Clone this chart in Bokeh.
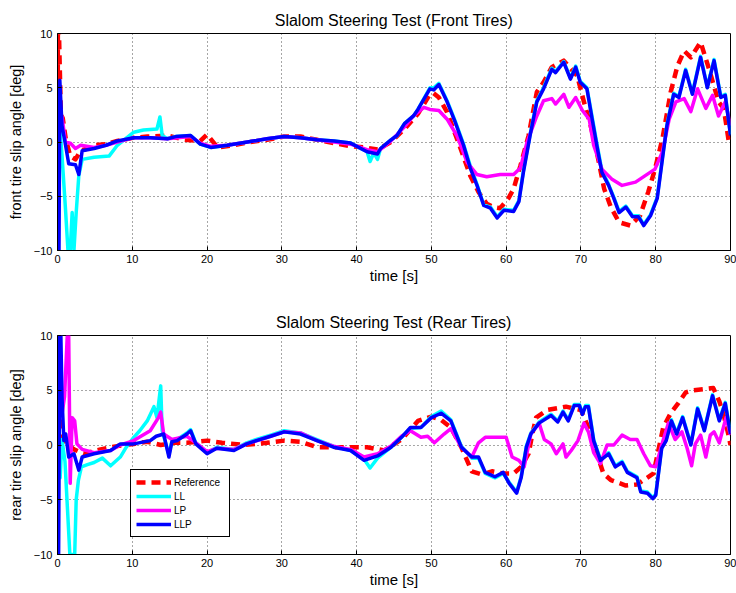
from bokeh.plotting import figure
from bokeh.models import Legend, LegendItem, FixedTicker, Range1d
from bokeh.layouts import column
from bokeh.embed import file_html
from bokeh.resources import INLINE

# ---------------- data ----------------
XTICKS = [0, 10, 20, 30, 40, 50, 60, 70, 80, 90]
YTICKS = [-10, -5, 0, 5, 10]
SERIES_NAMES = ["Reference", "LL", "LP", "LLP"]
TITLES = ["Slalom Steering Test (Front Tires)", "Slalom Steering Test (Rear Tires)"]
YLABELS = ["front tire slip angle [deg]", "rear tire slip angle [deg]"]
XLABEL = "time [s]"

FRONT_REF = [(0, -10), (0.05, 10), (0.2, 10), (0.45, 2.5), (0.7, 2.2), (1.1, 0.3), (1.7, -1.3),
             (2.4, -1.6), (3.1, -0.8), (4.0, -0.6), (4.9, -0.3), (6.5, -0.2), (8.0, 0.1), (10.2, 0.4),
             (12.0, 0.5), (14.7, 0.6), (17.0, 0.2), (19.1, 0.1), (20.0, 0.7), (21.4, -0.5), (23.6, -0.3),
             (25.8, 0.0), (28.0, 0.2), (30.3, 0.5), (32.5, 0.5), (34.7, 0.2), (37.0, -0.1), (39.2, -0.4),
             (41.0, -0.5), (42.8, -0.7), (44.6, 0.0), (46.4, 1.2), (48.2, 2.6), (49.8, 4.4), (50.3, 4.5),
             (51.0, 4.1), (52.1, 2.75), (53.9, -0.6), (55.2, -3.1), (56.3, -4.6), (57.4, -5.7), (58.3, -6.0),
             (59.2, -6.1), (60.3, -5.2), (61.0, -4.3), (61.9, -2.2), (63.0, 0.6), (64.1, 4.6), (65.0, 5.5),
             (66.1, 6.9), (67.7, 7.5), (69.5, 6.1), (70.4, 3.7), (71.3, 1.5), (72.2, -1.2), (73.1, -4.3),
             (74.0, -6.0), (75.1, -7.4), (76.6, -7.7), (77.9, -6.8), (79.0, -4.6), (79.9, -2.5), (80.9, 0.3),
             (82.0, 4.6), (82.9, 7.0), (83.8, 8.4), (84.7, 7.8), (86.0, 9.2), (87.1, 6.8), (88.4, 3.7),
             (89.1, 3.1), (89.8, -0.1), (90, -0.3)]

FRONT_LL = [(0, -10), (0.1, -10), (0.18, 2.7), (0.6, -1.2), (1.07, -6.2), (1.4, -10), (1.7, -10),
            (1.96, -6.5), (2.2, -10), (2.5, -6.5), (2.85, -3.1), (3.3, -1.6), (4.9, -1.4), (6.9, -1.3),
            (8.0, -0.3), (10.2, 0.9), (11.5, 1.1), (13.3, 1.2), (13.7, 2.3), (14.0, 0.6), (14.7, 0.3),
            (15.8, 0.5), (17.8, 0.6), (19.1, -0.2), (20.5, -0.5), (22.7, -0.3), (25.4, 0.0), (28.0, 0.3),
            (30.3, 0.5), (32.5, 0.4), (34.7, 0.2), (37.0, 0.1), (39.2, -0.1), (41.4, -0.9), (41.8, -1.8),
            (42.3, -1.0), (42.8, -1.6), (43.2, -0.6), (44.6, 0.2), (45.4, 0.6), (46.4, 1.7), (47.6, 2.4),
            (48.2, 3.0), (49.8, 5.0), (50.3, 5.0), (51.0, 5.4), (52.1, 3.8), (53.2, 1.9), (54.3, -0.2),
            (55.2, -2.2), (56.1, -3.9), (57.0, -5.8), (57.9, -6.0), (58.8, -6.9), (59.7, -6.2),
            (61.0, -6.3), (61.7, -5.4), (62.3, -2.7), (63.2, 0.7), (64.1, 3.8), (65.0, 5.0), (66.1, 6.8),
            (66.6, 6.5), (67.7, 7.4), (68.6, 5.9), (69.3, 7.0), (69.9, 5.6), (70.8, 5.0), (71.5, 2.3),
            (72.2, -0.4), (72.8, -2.6), (73.7, -3.9), (74.4, -5.1), (75.1, -6.4), (76.0, -5.9),
            (76.9, -6.8), (77.7, -6.8), (78.4, -7.6), (79.3, -6.7), (80.2, -5.1), (80.9, -1.4),
            (81.5, 1.6), (82.4, 4.5), (83.1, 4.2), (84.0, 6.7), (84.9, 4.5), (86.0, 7.9), (86.9, 5.1),
            (87.8, 7.6), (88.7, 4.2), (89.3, 4.4), (90, 0.7)]

FRONT_LP = [(0, -1.0), (0.1, 2.8), (0.2, 2.6), (0.6, 2.3), (1.07, 0.0), (1.7, -0.1), (2.4, -0.6),
            (3.1, -0.3), (4.9, -0.5), (6.5, -0.3), (8.0, 0.0), (10.2, 0.4), (12.4, 0.4), (14.7, 0.3),
            (17.8, 0.5), (19.1, -0.1), (20.5, -0.4), (22.7, -0.3), (25.4, 0.0), (28.0, 0.3), (30.3, 0.5),
            (32.5, 0.4), (34.7, 0.2), (37.0, 0.0), (39.2, -0.2), (41.4, -0.7), (42.8, -0.9), (44.6, 0.1),
            (46.4, 1.4), (47.6, 2.4), (49.0, 3.2), (49.8, 3.0), (51.0, 2.9), (52.1, 2.1), (53.4, 0.6),
            (54.8, -1.9), (56.1, -3.0), (57.4, -3.2), (59.2, -3.0), (61.0, -3.0), (61.9, -2.4),
            (62.8, 0.0), (64.1, 2.4), (65.0, 3.8), (66.1, 4.0), (66.6, 3.5), (67.7, 4.4), (68.4, 3.2),
            (69.3, 4.1), (70.2, 2.9), (71.1, 2.1), (71.7, -0.3), (72.8, -2.5), (74.1, -3.4), (75.5, -4.0),
            (77.3, -3.7), (78.6, -3.1), (79.9, -2.5), (80.9, -0.9), (81.8, 2.1), (82.7, 3.7), (83.8, 4.0),
            (84.7, 2.8), (85.6, 4.9), (86.7, 3.1), (87.6, 4.3), (88.4, 2.4), (89.3, 3.7), (90, 1.5)]

FRONT_LLP = [(0, -10), (0.2, -10), (0.31, 5.7), (0.6, 1.5), (1.0, 0.0), (1.5, -2.0), (2.4, -2.1),
             (2.85, -3.0), (3.3, -0.8), (4.9, -0.6), (6.5, -0.3), (8.0, 0.1), (10.2, 0.4), (12.4, 0.4),
             (14.7, 0.3), (15.8, 0.5), (17.8, 0.6), (19.1, -0.2), (20.5, -0.5), (22.7, -0.3), (25.4, 0.0),
             (28.0, 0.3), (30.3, 0.5), (32.5, 0.4), (34.7, 0.2), (37.0, 0.1), (39.2, -0.1), (41.4, -0.9),
             (42.8, -1.1), (43.2, -0.6), (44.6, 0.2), (45.4, 0.6), (46.4, 1.7), (47.6, 2.4), (48.2, 3.0),
             (49.8, 4.9), (50.3, 4.8), (51.0, 5.3), (52.1, 3.7), (53.2, 1.8), (54.3, -0.3), (55.2, -2.4),
             (56.1, -4.0), (57.0, -5.85), (57.9, -6.1), (58.8, -7.0), (59.7, -6.3), (61.0, -6.4),
             (61.7, -5.5), (62.3, -2.8), (63.2, 0.6), (64.1, 3.7), (65.0, 4.9), (66.1, 6.7), (66.6, 6.4),
             (67.7, 7.35), (68.6, 5.8), (69.3, 6.9), (69.9, 5.5), (70.8, 4.9), (71.5, 2.1), (72.2, -0.6),
             (72.8, -2.8), (73.7, -4.0), (74.4, -5.2), (75.1, -6.5), (76.0, -6.0), (76.9, -6.9),
             (77.7, -6.9), (78.4, -7.7), (79.3, -6.8), (80.2, -5.2), (80.9, -1.55), (81.5, 1.5),
             (82.4, 4.4), (83.1, 4.1), (84.0, 6.6), (84.9, 4.4), (86.0, 7.8), (86.9, 5.0), (87.8, 7.5),
             (88.7, 4.1), (89.3, 4.3), (90, 0.6)]

REAR_REF = [(0, 0.0), (0.05, 10), (0.25, 10), (0.5, 1.0), (1.0, 0.3), (2.2, -0.4), (3.5, -0.8),
            (5.75, -0.4), (8.0, -0.1), (10.2, 0.1), (12.0, 0.3), (13.8, 0.0), (15.5, 0.2), (17.3, 0.2),
            (20.0, 0.4), (22.0, 0.2), (25.0, 0.0), (28.0, 0.2), (30.3, 0.4), (32.5, 0.3), (34.7, -0.2),
            (37.0, -0.2), (39.2, -0.2), (41.4, -0.2), (43.7, -0.5), (46.0, 0.5), (48.2, 2.2), (50.0, 2.6),
            (51.3, 2.3), (52.6, 1.6), (54.0, -0.2), (55.4, -2.4), (56.8, -2.7), (58.1, -2.4), (59.6, -2.6),
            (61.0, -2.6), (62.0, -2.0), (63.0, -0.8), (63.5, 1.0), (64.0, 2.5), (65.5, 3.2), (68.0, 3.5),
            (70.0, 3.2), (71.0, 1.6), (72.0, -0.5), (73.0, -2.6), (74.0, -3.2), (76.0, -3.7), (77.5, -3.6),
            (79.7, -2.6), (81.0, 1.6), (82.0, 2.9), (83.0, 3.8), (84.0, 4.8), (85.0, 5.0), (87.7, 5.2),
            (88.5, 4.0), (89.0, 3.0), (89.7, 1.0), (90, 0.0)]

REAR_LL = [(0, -10), (0.15, 4.0), (0.35, -3.0), (0.6, 0.5), (1.0, -1.5), (1.5, -8.0), (1.65, -10),
           (2.3, -10), (2.5, -5.0), (2.8, -3.2), (3.2, -2.0), (4.0, -1.8), (4.9, -1.6), (6.0, -1.2),
           (7.1, -1.9), (8.4, -1.1), (9.2, -0.2), (10.2, 0.7), (11.0, 1.3), (12.0, 2.2), (12.9, 3.5),
           (13.3, 2.5), (13.8, 5.4), (14.0, 1.3), (14.9, -0.9), (15.3, 0.4), (16.0, 0.5), (17.3, 1.1),
           (17.8, 1.4), (18.5, 0.2), (20.0, -0.7), (21.3, -0.2), (23.6, -0.4), (25.3, 0.2), (26.6, 0.5),
           (28.5, 0.9), (30.3, 1.3), (32.5, 1.1), (34.7, 0.5), (36.9, -0.1), (39.2, -0.5), (41.0, -1.3),
           (41.8, -2.1), (42.8, -1.2), (44.6, -0.2), (46.0, 0.7), (47.2, 1.5), (48.6, 1.6), (50.0, 2.6),
           (51.3, 3.1), (52.6, 2.3), (54.0, -0.1), (55.4, -1.2), (56.3, -1.2), (57.2, -2.6), (58.5, -3.0),
           (59.6, -2.6), (60.4, -3.4), (61.4, -4.3), (62.0, -2.9), (62.7, -0.1), (63.3, 1.1), (64.4, 2.1),
           (66.0, 2.8), (66.9, 2.2), (67.6, 3.1), (68.3, 2.3), (69.1, 3.7), (69.8, 3.7), (70.2, 2.9),
           (70.6, 3.6), (71.0, 3.6), (71.7, 0.5), (72.6, -1.3), (73.7, -0.7), (74.6, -1.9), (75.5, -1.5),
           (76.2, -2.4), (77.5, -2.9), (78.0, -4.2), (78.9, -4.3), (79.6, -4.8), (80.0, -4.5), (80.8, -0.2),
           (81.4, 0.5), (82.1, 2.3), (82.8, 1.1), (83.6, 2.6), (84.7, 0.1), (85.6, 3.4), (86.5, 1.4),
           (87.6, 4.6), (88.5, 2.3), (89.3, 3.9), (90, 1.1)]

REAR_LP = [(0, -1.1), (0.1, -2.0), (0.3, 7.4), (0.6, 2.8), (0.94, 4.4), (1.3, 9.9), (1.5, 10),
           (1.7, -3.5), (1.96, 2.5), (2.3, 2.2), (2.6, 0.1), (3.3, -0.4), (4.9, -0.7), (7.1, -0.5),
           (8.4, 0.0), (10.2, 0.4), (12.4, 1.3), (13.5, 2.5), (13.8, 3.0), (14.2, 1.0), (15.3, 0.5),
           (17.3, 0.8), (18.5, 0.2), (20.0, -0.6), (21.3, -0.3), (23.6, -0.4), (25.3, 0.1), (28.5, 0.8),
           (30.3, 1.2), (32.5, 1.1), (34.7, 0.4), (36.9, -0.1), (39.2, -0.4), (41.0, -1.1), (42.8, -0.8),
           (44.6, -0.1), (46.0, 0.8), (47.2, 1.3), (48.6, 0.7), (49.5, 0.8), (50.4, 0.2), (51.7, 1.0),
           (52.6, 1.5), (54.0, -0.2), (55.4, -1.1), (56.3, 0.2), (57.2, 0.7), (58.5, 0.7), (60.0, 0.7),
           (60.8, -1.1), (61.7, -1.4), (62.4, -2.0), (63.3, 1.0), (64.4, 2.0), (65.1, 0.5), (66.0, 0.1),
           (66.7, -0.8), (67.6, 0.1), (68.0, -1.1), (68.7, -0.5), (69.6, 0.4), (70.4, 2.0), (71.0, 1.2),
           (71.7, -0.7), (72.6, -1.7), (73.5, 0.0), (74.4, 0.0), (75.5, 0.9), (76.6, 0.5), (77.5, 0.5),
           (78.4, -0.8), (79.3, -1.9), (80.0, -2.0), (80.8, 0.0), (81.7, 2.0), (82.6, 0.5), (83.5, 1.2),
           (84.2, -0.3), (84.8, -1.9), (85.3, 0.1), (86.0, 0.9), (86.7, -1.1), (87.3, 0.9), (87.8, 1.2),
           (88.5, 0.2), (89.4, 2.5), (90, 0.9)]

REAR_LLP = [(0, -10), (0.15, -10), (0.3, 10), (0.45, 10), (0.6, 4.4), (0.85, 0.4), (1.1, 1.0),
            (1.5, -1.1), (2.2, -0.8), (2.85, -2.3), (3.3, -1.1), (4.9, -0.8), (7.1, -0.5), (8.4, 0.1),
            (10.2, 0.1), (12.4, 0.4), (13.2, 0.8), (14.2, 1.0), (14.9, -1.1), (15.3, 0.3), (16.0, 0.4),
            (17.3, 1.0), (17.8, 1.3), (18.5, 0.1), (20.0, -0.8), (21.3, -0.3), (23.6, -0.5), (25.3, 0.1),
            (26.6, 0.4), (28.5, 0.8), (30.3, 1.2), (32.5, 1.0), (34.7, 0.4), (36.9, -0.2), (39.2, -0.5),
            (41.0, -1.4), (42.8, -1.0), (44.6, -0.2), (46.0, 0.7), (47.2, 1.6), (48.6, 1.6), (50.0, 2.5),
            (51.3, 2.9), (52.6, 2.2), (54.0, -0.2), (55.4, -1.1), (56.3, -1.1), (57.2, -2.5), (58.5, -2.9),
            (59.6, -2.5), (60.4, -3.5), (61.4, -4.4), (62.0, -3.0), (62.7, -0.2), (63.3, 1.0), (64.4, 2.0),
            (66.0, 2.7), (66.9, 2.1), (67.6, 3.0), (68.3, 2.2), (69.1, 3.6), (69.8, 3.6), (70.2, 2.8),
            (70.6, 3.5), (71.0, 3.5), (71.7, 0.4), (72.6, -1.4), (73.7, -0.8), (74.6, -2.0), (75.5, -1.6),
            (76.2, -2.5), (77.5, -3.0), (78.0, -4.3), (78.9, -4.4), (79.6, -4.9), (80.0, -4.6), (80.8, -0.3),
            (81.4, 0.4), (82.1, 2.2), (82.8, 1.0), (83.6, 2.5), (84.7, 0.0), (85.6, 3.3), (86.5, 1.3),
            (87.6, 4.5), (88.5, 2.2), (89.3, 3.8), (90, 1.0)]

# ---------------- styling ----------------
FONT = "Liberation Sans"
COLORS = ["#ff0000", "#00ffff", "#ff00ff", "#0000ff"]
WIDTHS = [4.5, 3.5, 3.5, 3.5]
DASHES = ["9 6", "solid", "solid", "solid"]


def style_axis(ax, ticks, standoff):
    ax.ticker = FixedTicker(ticks=ticks)
    ax.axis_line_color = "black"
    ax.major_tick_line_color = "black"
    ax.major_tick_in = 4
    ax.major_tick_out = 0
    ax.minor_tick_line_color = None
    ax.major_label_text_font = FONT
    ax.major_label_text_color = "black"
    ax.major_label_text_font_size = "11px"
    ax.major_label_standoff = standoff
    ax.axis_label_text_font = FONT
    ax.axis_label_text_font_size = "15px"
    ax.axis_label_text_font_style = "normal"
    ax.axis_label_text_color = "black"


def make_panel(title, ylabel, series, height, top, bottom, with_legend):
    p = figure(width=736, height=height, x_range=Range1d(0, 90), y_range=Range1d(-10, 10),
               output_backend="svg", toolbar_location=None, tools="",
               min_border_left=57, min_border_right=6, min_border_top=top, min_border_bottom=bottom)
    p.title.text = title
    p.title.align = "center"
    p.title.text_font = FONT
    p.title.text_font_size = "16px"
    p.title.text_font_style = "normal"
    p.title.text_color = "black"
    p.title.standoff = 9

    p.outline_line_color = "black"
    p.outline_line_alpha = 1
    p.background_fill_color = "white"
    p.border_fill_color = "white"

    for g in (p.xgrid[0], p.ygrid[0]):
        g.grid_line_color = "black"
        g.grid_line_alpha = 0.7
        g.grid_line_dash = "1 3"
        g.grid_line_width = 1
    p.xgrid.ticker = FixedTicker(ticks=XTICKS)
    p.ygrid.ticker = FixedTicker(ticks=YTICKS)

    xa = p.xaxis[0]
    ya = p.yaxis[0]
    style_axis(xa, XTICKS, 4)
    style_axis(ya, YTICKS, 5)
    xa.axis_label = XLABEL
    ya.axis_label = ylabel
    ya.axis_label_text_font_size = "14.5px"
    xa.axis_label_standoff = 1
    ya.axis_label_standoff = 7

    renderers = []
    for data, c, w, d in zip(series, COLORS, WIDTHS, DASHES):
        t = [pt[0] for pt in data]
        v = [pt[1] for pt in data]
        r = p.line(t, v, line_color=c, line_width=w, line_dash=d, line_join="round")
        renderers.append(r)

    if with_legend:
        items = [LegendItem(label=n, renderers=[r]) for n, r in zip(SERIES_NAMES, renderers)]
        leg = Legend(items=items, location=(73, 17), label_text_font=FONT, label_text_font_size="10px",
                     label_text_color="black", border_line_color="black", border_line_width=1,
                     border_line_alpha=1, background_fill_color="white", background_fill_alpha=1,
                     glyph_width=35, glyph_height=14, label_height=14, label_width=50, label_standoff=3,
                     padding=5, spacing=0, margin=0)
        p.add_layout(leg)
    return p


p1 = make_panel(TITLES[0], YLABELS[0], [FRONT_REF, FRONT_LL, FRONT_LP, FRONT_LLP], 296, 33, 46, False)
p2 = make_panel(TITLES[1], YLABELS[1], [REAR_REF, REAR_LL, REAR_LP, REAR_LLP], 297, 39, 39, True)

layout = column(p1, p2)
open("out.html", "w").write(file_html(layout, INLINE))
